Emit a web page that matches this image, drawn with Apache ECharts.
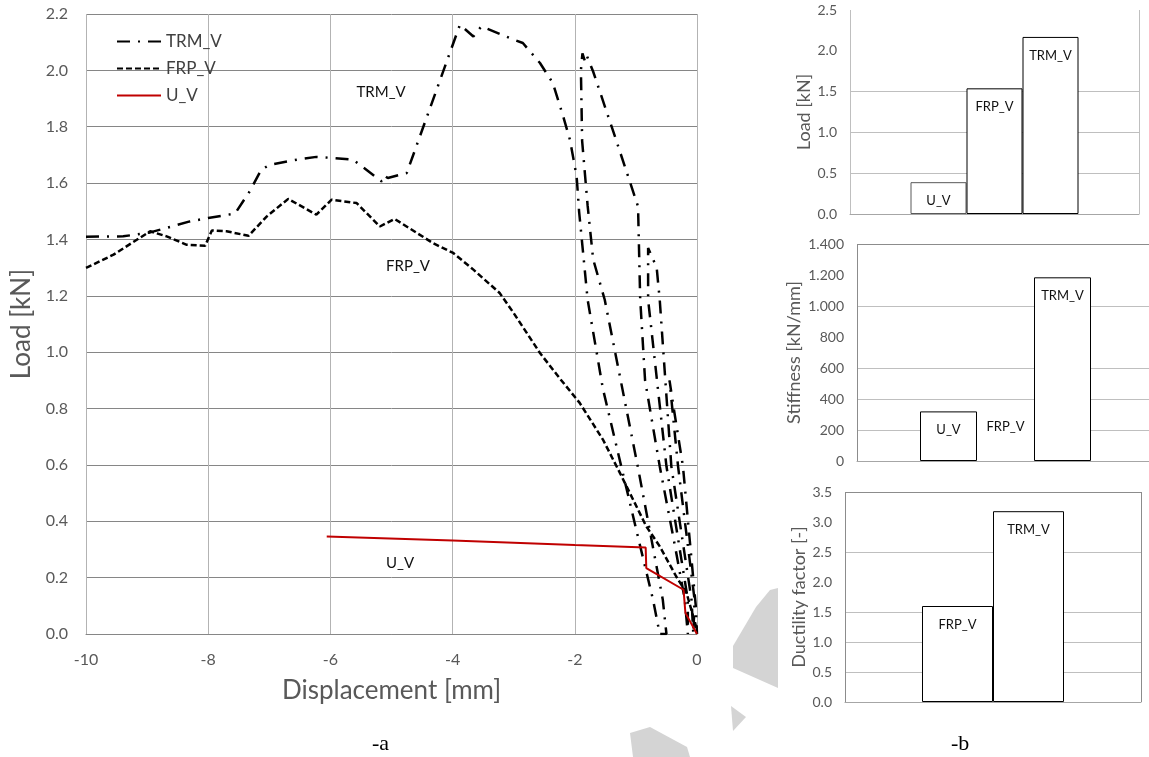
<!DOCTYPE html>
<html>
<head>
<meta charset="utf-8">
<title>Load-displacement curves and specimen comparison</title>
<script src="https://cdn.jsdelivr.net/npm/echarts@6/dist/echarts.min.js"></script>
<style>
  html, body { margin: 0; padding: 0; background: #fff; }
  #chart { width: 1149px; height: 757px; }
</style>
</head>
<body>
<div id="chart"></div>
<script>
// load-displacement curves, [displacement mm, load kN]
const trmV = [
  [-10, 1.41], [-9.39, 1.411], [-8.95, 1.425], [-8.68, 1.441], [-8.3, 1.464], [-8.0, 1.476],
  [-7.56, 1.492], [-7.32, 1.571], [-7.13, 1.648], [-6.99, 1.665], [-6.55, 1.683], [-6.23, 1.693],
  [-5.95, 1.689], [-5.63, 1.683], [-5.16, 1.606], [-5.12, 1.627], [-5.06, 1.618], [-4.75, 1.636],
  [-3.88, 2.162], [-3.66, 2.12], [-3.53, 2.156], [-3.01, 2.11], [-2.85, 2.097], [-2.57, 2.026],
  [-2.36, 1.955], [-2.19, 1.837], [-2.08, 1.754], [-1.97, 1.624],
  [-1.93, 1.5], [-1.79, 1.186], [-1.54, 0.87], [-1.24, 0.595], [-0.95, 0.33], [-0.72, 0.122], [-0.61, 0.0],
  [-0.5, 0.0], [-0.56, 0.122], [-0.97, 0.595], [-1.51, 1.186], [-1.7, 1.33], [-1.79, 1.52],
  [-1.88, 1.75], [-1.9, 2.0], [-1.875, 2.06], [-1.83, 2.03], [-1.8, 2.05],
  [-1.7, 1.996], [-1.35, 1.77], [-0.965, 1.517],
  [-0.93, 1.19], [-0.85, 0.9], [-0.61, 0.595], [-0.35, 0.3], [-0.2, 0.122], [-0.15, 0.0],
  [-0.12, 0.0], [-0.15, 0.122], [-0.5, 0.595], [-0.8, 1.186], [-0.8, 1.37],
  [-0.66, 1.3], [-0.61, 1.186], [-0.42, 0.595], [-0.09, 0.122], [-0.06, 0.0],
  [-0.04, 0.0], [-0.04, 0.122], [-0.31, 0.595], [-0.45, 0.9],
  [-0.38, 0.8], [-0.23, 0.595], [-0.02, 0.1], [0, 0.0]
];
const frpV = [
  [-10, 1.299], [-9.55, 1.346], [-8.95, 1.429], [-8.68, 1.411], [-8.35, 1.381], [-8.05, 1.378],
  [-7.94, 1.432], [-7.7, 1.429], [-7.34, 1.413], [-7.04, 1.482], [-6.69, 1.544], [-6.23, 1.488],
  [-5.98, 1.541], [-5.57, 1.529], [-5.19, 1.446], [-4.95, 1.473], [-4.32, 1.387], [-3.99, 1.352],
  [-3.66, 1.293], [-3.23, 1.21], [-3.01, 1.142], [-2.57, 0.997], [-2.25, 0.908], [-1.92, 0.82],
  [-1.54, 0.69], [-1.26, 0.571], [-0.83, 0.382], [-0.61, 0.311], [-0.34, 0.204], [-0.17, 0.145],
  [0, 0.015]
];
const uV = [
  [-6.06, 0.346], [-4.0, 0.332], [-2.0, 0.316], [-0.84, 0.307], [-0.83, 0.234],
  [-0.22, 0.157], [-0.19, 0.075], [0, 0.0]
];

// bar panels (b)
const specimens = ['U_V', 'FRP_V', 'TRM_V'];
const peakLoad = [0.39, 1.54, 2.17];
const stiffness = [320, 338, 1185];
const ductSpecimens = ['FRP_V', 'TRM_V'];
const ductility = [1.6, 3.18];

const FONT = 'Lato, "Noto Sans", sans-serif';
const GREY_TXT = '#595959';
const LIGHT = '#bfbfbf';
const MID = '#a6a6a6';
const NONE = 'transparent';

const chart = echarts.init(document.getElementById('chart'), null, { renderer: 'canvas' });

function lineSeries(name, data, color, dash, width, note) {
  return {
    name, type: 'line', data, xAxisIndex: 0, yAxisIndex: 0,
    symbol: 'none', smooth: false, clip: true,
    lineStyle: { color, width, type: dash },
    itemStyle: { color },
    z: name === 'U_V' ? 4 : 3,
    markPoint: {
      symbol: 'rect', symbolSize: 0, silent: true,
      label: { show: true, formatter: name, color: '#111', fontSize: 15, fontFamily: FONT },
      data: [{ coord: note }]
    }
  };
}

function barSeries(name, value, gridIdx, width, border) {
  return {
    name, type: 'bar', data: [value], xAxisIndex: gridIdx, yAxisIndex: gridIdx,
    barWidth: width, barGap: '0%',
    itemStyle: { color: '#fff', borderColor: border, borderWidth: border === NONE ? 0 : 1 },
    label: { show: true, position: 'insideTop', distance: 12, formatter: name,
      color: '#111', fontSize: 13, fontFamily: FONT }
  };
}

function barYAxis(idx, max, interval, name, nameGap, lineColors, fmt) {
  return {
    type: 'value', gridIndex: idx, min: 0, max, interval,
    name, nameLocation: 'middle', nameGap,
    nameTextStyle: { color: GREY_TXT, fontSize: 18, fontFamily: FONT },
    axisLine: { show: false }, axisTick: { show: false },
    axisLabel: { color: GREY_TXT, fontSize: 14, fontFamily: FONT, margin: 13, formatter: fmt },
    splitLine: { show: true, lineStyle: { color: lineColors, width: 1 } }
  };
}

function barXAxis(idx, edgeColor, baseColor) {
  return {
    type: 'category', gridIndex: idx, data: [''],
    axisLine: { show: true, lineStyle: { color: baseColor } },
    axisTick: { show: false }, axisLabel: { show: false },
    splitLine: { show: true, lineStyle: { color: edgeColor } }
  };
}

const oneDec = v => v.toFixed(1);
const dotThousands = v => v >= 1000 ? Math.floor(v / 1000) + '.' + String(v % 1000).padStart(3, '0') : String(v);

const gridBase = { containLabel: false, outerBoundsMode: 'none' };

const option = {
  backgroundColor: '#fff',
  animation: false,
  textStyle: { fontFamily: FONT },
  grid: [
    { ...gridBase, left: 86, right: 452, top: 14, bottom: 123 },
    { ...gridBase, left: 850, right: 10, top: 10, bottom: 543 },
    { ...gridBase, left: 857, right: -5, top: 244, bottom: 296 },
    { ...gridBase, left: 845, right: 8, top: 492, bottom: 55 }
  ],
  legend: {
    data: ['TRM_V', 'FRP_V', 'U_V'],
    orient: 'vertical', left: 111, top: 28,
    itemWidth: 44, itemHeight: 20, itemGap: 10,
    itemStyle: { opacity: 0 },
    textStyle: { color: '#404040', fontSize: 17, fontFamily: FONT }
  },
  xAxis: [
    {
      type: 'value', gridIndex: 0, min: -10, max: 0, interval: 2,
      name: 'Displacement [mm]', nameLocation: 'middle', nameGap: 44,
      nameTextStyle: { color: GREY_TXT, fontSize: 26, fontFamily: FONT },
      axisLine: { show: true, onZero: false, lineStyle: { color: '#868686' } },
      axisTick: { show: false },
      axisLabel: { color: GREY_TXT, fontSize: 16, margin: 18, fontFamily: FONT },
      splitLine: { show: true, lineStyle: { color: '#b3b3b3' } }
    },
    barXAxis(1, LIGHT, MID),
    barXAxis(2, '#8c8c8c', MID),
    barXAxis(3, '#8c8c8c', MID)
  ],
  yAxis: [
    {
      type: 'value', gridIndex: 0, min: 0, max: 2.2, interval: 0.2,
      name: 'Load [kN]', nameLocation: 'middle', nameGap: 48,
      nameTextStyle: { color: GREY_TXT, fontSize: 26, fontFamily: FONT },
      axisLine: { show: false }, axisTick: { show: false },
      axisLabel: { color: GREY_TXT, fontSize: 16, margin: 18, fontFamily: FONT, formatter: oneDec },
      splitLine: { show: true, lineStyle: { color: '#868686' } }
    },
    barYAxis(1, 2.5, 0.5, 'Load [kN]', 35, [LIGHT, LIGHT, LIGHT, LIGHT, NONE, NONE], oneDec),
    barYAxis(2, 1400, 200, 'Stiffness [kN/mm]', 54,
      [LIGHT, LIGHT, LIGHT, LIGHT, NONE, LIGHT, NONE, '#8c8c8c'], dotThousands),
    barYAxis(3, 3.5, 0.5, 'Ductility factor [-]', 32,
      [LIGHT, LIGHT, LIGHT, LIGHT, NONE, LIGHT, NONE, '#8c8c8c'], oneDec)
  ],
  graphic: [
    { type: 'polygon', z: -10, shape: { points: [[770, 590], [778, 588], [778, 688], [733, 668], [733, 646], [756, 607]] }, style: { fill: '#d4d4d4' } },
    { type: 'polygon', z: -10, shape: { points: [[731, 706], [746, 717], [733, 731]] }, style: { fill: '#d4d4d4' } },
    { type: 'polygon', z: -10, shape: { points: [[630, 733], [650, 727], [687, 747], [690, 757], [633, 757]] }, style: { fill: '#d4d4d4' } },
    { type: 'text', left: 372, top: 733, style: { text: '-a', fill: '#000', font: '22px "Liberation Serif", serif' } },
    { type: 'text', left: 951, top: 733, style: { text: '-b', fill: '#000', font: '22px "Liberation Serif", serif' } }
  ],
  series: [
    lineSeries('TRM_V', trmV, '#000', [13, 8, 2, 8], 2.5, [-5.17, 1.924]),
    lineSeries('FRP_V', frpV, '#000', [6, 3], 2.5, [-4.73, 1.307]),
    lineSeries('U_V', uV, '#c00000', 'solid', 2, [-4.86, 0.25]),
    ...specimens.map((s, i) => barSeries(s, peakLoad[i], 1, 56, i === 0 ? '#595959' : '#000')),
    ...specimens.map((s, i) => barSeries(s, stiffness[i], 2, 57, i === 1 ? NONE : '#000')),
    ...ductSpecimens.map((s, i) => barSeries(s, ductility[i], 3, 71, '#000'))
  ]
};

chart.setOption(option);
window.addEventListener('resize', () => chart.resize());
</script>
</body>
</html>
